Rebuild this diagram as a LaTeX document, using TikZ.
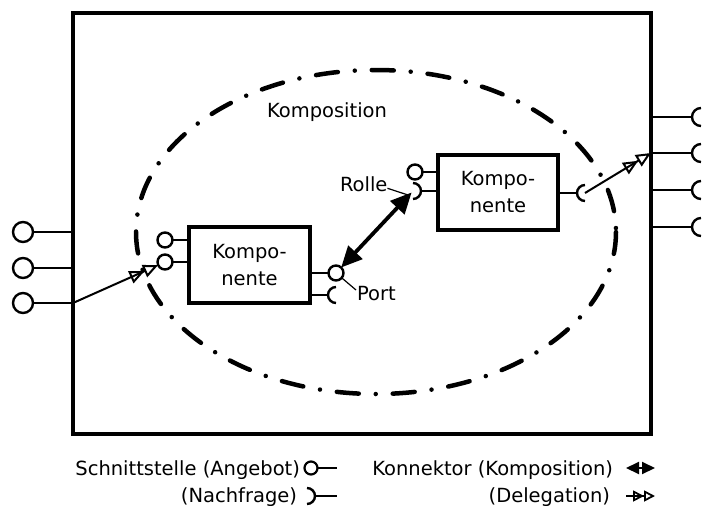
\documentclass[tikz,border=0pt]{standalone}
\usepackage{fontspec}
\setmainfont{DejaVu Sans}
\usetikzlibrary{arrows.meta}
\begin{document}
\begin{tikzpicture}[x=1pt,y=-1pt,
  every node/.style={outer sep=0pt},
  lbl/.style={font=\fontsize{19.5}{27}\selectfont, inner sep=0pt},
  outerbox/.style={draw, line width=3.8pt, minimum width=578pt, minimum height=421pt, inner sep=0pt},
  compbox/.style={draw, line width=3.8pt, minimum width=121pt, minimum height=76pt,
    inner sep=0pt, align=center, font=\fontsize{19.5}{27}\selectfont},
  prov/.style={draw, circle, line width=2.4pt, minimum size=15pt, inner sep=0pt},
  bigprov/.style={prov, minimum size=20pt},
  portline/.style={line width=2.4pt},
  sockarc/.style={line width=2.4pt},
  leader/.style={line width=1.2pt},
  compo/.style={line width=4.5pt, line cap=round, dash pattern=on 22pt off 17pt on 0pt off 17pt},
  assembly/.style={line width=3.8pt, {Triangle[length=21pt,width=19pt]}-{Triangle[length=21pt,width=19pt]}},
  delegate/.style={line width=2pt, -{Triangle[open,length=15pt,width=13pt]Triangle[open,length=15pt,width=13pt]}},
  legassembly/.style={line width=2pt, {Triangle[length=13pt,width=12pt]}-{Triangle[length=13pt,width=12pt]}},
  legdelegate/.style={line width=1.8pt, -{Triangle[open,length=11pt,width=11pt]Triangle[open,length=11pt,width=11pt]}},
]
\useasboundingbox (0,0) rectangle (705,506);

% enclosing component
\node[outerbox] (outer) at (362,223.5) {};

% composition boundary
\draw[compo] (376,232) ellipse [x radius=240, y radius=162];
\node[lbl, anchor=base west] (komp) at (267,117) {Komposition};

% outer ports, left: provided interfaces
\node[bigprov] (lo1) at (23,232) {};
\node[bigprov] (lo2) at (23,268) {};
\node[bigprov] (lo3) at (23,303) {};
\foreach \p in {lo1,lo2,lo3} \draw[portline] (\p) -- (\p -| outer.west);

% outer ports, right: required interfaces
\foreach \n/\y in {1/117,2/153,3/190,4/227} {
  \coordinate (ro\n) at (701,\y);
  \coordinate (ro\n t) at (692,\y);
  \draw[portline] (ro\n t -| outer.east) -- (ro\n t);
  \draw[sockarc] (ro\n) ++(0,9) arc[start angle=90, end angle=270, radius=9];
}

% left inner component
\node[compbox] (lcomp) at (249.5,265) {Kompo-\\nente};
\node[prov] (lc1) at (165,240) {};
\node[prov] (lc2) at (165,262) {};
\draw[portline] (lc1) -- (lc1 -| lcomp.west);
\draw[portline] (lc2) -- (lc2 -| lcomp.west);
\node[prov] (p1) at (336,273) {};
\draw[portline] (p1) -- (p1 -| lcomp.east);
\coordinate (lsk) at (336,295);
\coordinate (lskt) at (328,295);
\draw[portline] (lskt -| lcomp.east) -- (lskt);
\draw[sockarc] (lsk) ++(0,8) arc[start angle=90, end angle=270, radius=8];

% right inner component
\node[compbox, minimum width=120pt, minimum height=75pt] (rcomp) at (498,192.5) {Kompo-\\nente};
\node[prov] (rc1) at (415,172) {};
\draw[portline] (rc1) -- (rc1 -| rcomp.west);
\coordinate (rsk) at (413,191);
\coordinate (rskt) at (421,191);
\draw[portline] (rskt -| rcomp.west) -- (rskt);
\draw[sockarc] (rsk) ++(0,-8) arc[start angle=-90, end angle=90, radius=8];
\coordinate (rrs) at (585,193);
\coordinate (rrst) at (577,193);
\draw[portline] (rrst -| rcomp.east) -- (rrst);
\draw[sockarc] (rrs) ++(0,8) arc[start angle=90, end angle=270, radius=8];

% assembly connector between the components
\draw[assembly, shorten >=2pt] (p1) -- (rsk);

% delegation connectors
\draw[delegate] (lo3 -| outer.west) -- (lc2);
\draw[delegate] (rrs) -- (ro2 -| outer.east);

% role and port labels
\node[lbl, anchor=base west] (rolle) at (340,191) {Rolle};
\coordinate (rolleEnd) at (408,195);
\draw[leader] ([yshift=3pt]rolle.south east) -- (rolleEnd);
\node[lbl, anchor=base west] (port) at (357,300) {Port};
\coordinate (portEnd) at (356,290);
\draw[leader] (p1) -- (portEnd);

% legend
\node[lbl, anchor=base east] (schn) at (300,475) {Schnittstelle (Angebot)};
\node[draw, circle, line width=2.2pt, minimum size=13pt, inner sep=0pt] (lgc) at (311,468) {};
\coordinate (lgcEnd) at (337,468);
\draw[portline] (lgc) -- (lgcEnd);

\node[lbl, anchor=base east] (nach) at (297,502) {(Nachfrage)};
\coordinate (lgs) at (307,496);
\coordinate (lgst) at (315,496);
\coordinate (lgsEnd) at (337,496);
\draw[sockarc] (lgs) ++(0,-8) arc[start angle=-90, end angle=90, radius=8];
\draw[portline] (lgst) -- (lgsEnd);

\node[lbl, anchor=base east] (konn) at (613,475) {Konnektor (Komposition)};
\coordinate (laA) at (626,468);
\coordinate (laB) at (655,468);
\draw[legassembly] (laA) -- (laB);

\node[lbl, anchor=base east] (dele) at (610,502) {(Delegation)};
\coordinate (ldA) at (626,496);
\coordinate (ldB) at (655,496);
\draw[legdelegate] (ldA) -- (ldB);
\end{tikzpicture}
\end{document}
